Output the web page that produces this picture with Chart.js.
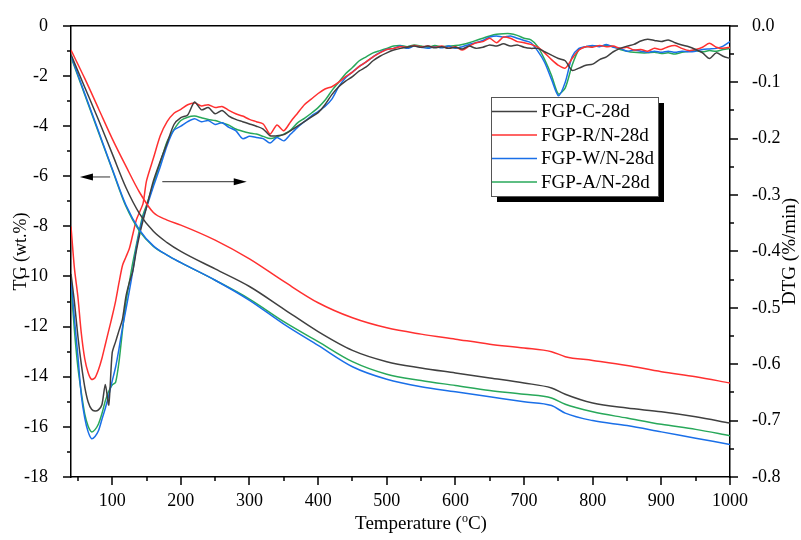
<!DOCTYPE html>
<html>
<head>
<meta charset="utf-8">
<script src="https://cdn.jsdelivr.net/npm/chart.js@4.4.1/dist/chart.umd.min.js"></script>
<style>
    html, body { margin: 0; padding: 0; background: #fff; }
    #wrap { width: 801px; height: 540px; position: relative; }
</style>
</head>
<body>
<div id="wrap"><canvas id="tgchart"></canvas></div>
<script>
// sample names and colours
const sampleNames = ['FGP-C-28d', 'FGP-R/N-28d', 'FGP-W/N-28d', 'FGP-A/N-28d'];
const sampleColors = ['#404040', '#ff3030', '#1a6fe8', '#28a85a'];

// TG curves (wt.%), left axis
const tempTG = [40, 60, 80, 100, 120, 140, 160, 180, 200, 250, 300, 350, 400, 450, 500, 550, 600, 650, 700, 740, 760, 800, 850, 900, 950, 1000];
const tgC = [-1.15, -2.45, -3.75, -5.1, -6.45, -7.5, -8.2, -8.65, -9.0, -9.7, -10.4, -11.3, -12.2, -12.95, -13.4, -13.65, -13.85, -14.05, -14.25, -14.45, -14.7, -15.05, -15.25, -15.4, -15.6, -15.85];
const tgR = [-0.97, -2.1, -3.3, -4.5, -5.6, -6.65, -7.45, -7.75, -7.95, -8.55, -9.3, -10.2, -11.05, -11.65, -12.05, -12.3, -12.5, -12.7, -12.85, -13.0, -13.2, -13.35, -13.55, -13.8, -14.0, -14.25];
const tgW = [-1.2, -2.7, -4.2, -5.7, -7.15, -8.15, -8.78, -9.15, -9.45, -10.15, -10.95, -11.9, -12.75, -13.6, -14.1, -14.4, -14.6, -14.8, -15.0, -15.15, -15.45, -15.75, -15.95, -16.2, -16.45, -16.7];
const tgA = [-1.25, -2.75, -4.25, -5.73, -7.2, -8.2, -8.8, -9.15, -9.45, -10.15, -10.9, -11.8, -12.6, -13.4, -13.9, -14.15, -14.35, -14.55, -14.7, -14.85, -15.1, -15.4, -15.65, -15.9, -16.1, -16.35];

// DTG curves (%/min), right axis
const tempDTG = [40, 45, 50, 55, 60, 65, 70, 75, 80, 85, 90, 95, 100, 105, 110, 115, 120, 125, 130, 135, 140, 145,
    150, 160, 170, 180, 190, 200, 210, 220, 230, 240, 250, 260, 270, 280, 290, 300, 310, 320, 330, 340, 350, 360, 370, 380, 390,
    400, 410, 420, 430, 440, 450, 460, 470, 480, 490, 500, 510, 520, 530, 540, 550, 560, 570, 580, 590, 600, 610, 620, 630, 640,
    650, 660, 670, 680, 690, 700, 710, 720, 730, 740, 750, 760, 770, 780, 790, 800, 810, 820, 830, 840, 850, 860, 870, 880, 890,
    900, 910, 920, 930, 940, 950, 960, 970, 980, 990, 1000];
const dtgC = [-0.44, -0.49, -0.55, -0.6, -0.64, -0.667, -0.68, -0.683, -0.681, -0.672, -0.636, -0.672, -0.58, -0.56, -0.54, -0.52, -0.48, -0.455, -0.435, -0.4, -0.37, -0.345,
    -0.322, -0.275, -0.24, -0.208, -0.175, -0.163, -0.158, -0.135, -0.149, -0.145, -0.156, -0.15, -0.16, -0.166, -0.17, -0.174, -0.178, -0.183, -0.195, -0.195, -0.193, -0.186, -0.178, -0.17, -0.162,
    -0.154, -0.14, -0.122, -0.108, -0.098, -0.09, -0.08, -0.073, -0.062, -0.054, -0.048, -0.043, -0.04, -0.038, -0.036, -0.038, -0.036, -0.039, -0.037, -0.04, -0.038, -0.041, -0.036, -0.04, -0.038,
    -0.034, -0.036, -0.032, -0.036, -0.034, -0.038, -0.04, -0.04, -0.046, -0.052, -0.058, -0.062, -0.079, -0.075, -0.07, -0.068, -0.06, -0.055, -0.046, -0.04, -0.036, -0.033, -0.027, -0.024, -0.026,
    -0.028, -0.025, -0.03, -0.034, -0.037, -0.042, -0.048, -0.058, -0.048, -0.054, -0.058];
const dtgR = [-0.356, -0.43, -0.48, -0.545, -0.59, -0.615, -0.627, -0.624, -0.61, -0.59, -0.565, -0.54, -0.515, -0.488, -0.455, -0.425, -0.41, -0.395, -0.37, -0.345, -0.33, -0.315,
    -0.275, -0.235, -0.195, -0.17, -0.155, -0.148, -0.14, -0.137, -0.142, -0.14, -0.145, -0.143, -0.15, -0.156, -0.16, -0.166, -0.17, -0.174, -0.192, -0.176, -0.186, -0.17, -0.155, -0.14, -0.13,
    -0.12, -0.112, -0.108, -0.1, -0.09, -0.082, -0.072, -0.064, -0.055, -0.048, -0.042, -0.04, -0.037, -0.038, -0.035, -0.037, -0.036, -0.038, -0.036, -0.04, -0.037, -0.043, -0.036, -0.03, -0.028,
    -0.022, -0.03, -0.02, -0.022, -0.028, -0.03, -0.033, -0.038, -0.048, -0.06, -0.07, -0.075, -0.058, -0.043, -0.037, -0.038, -0.035, -0.037, -0.036, -0.04, -0.038, -0.043, -0.042, -0.045, -0.04,
    -0.042, -0.037, -0.035, -0.04, -0.044, -0.042, -0.038, -0.031, -0.038, -0.04, -0.038];
const dtgW = [-0.449, -0.52, -0.585, -0.655, -0.695, -0.72, -0.732, -0.728, -0.718, -0.698, -0.678, -0.655, -0.63, -0.605, -0.572, -0.535, -0.503, -0.47, -0.435, -0.395, -0.365, -0.34,
    -0.322, -0.285, -0.25, -0.212, -0.185, -0.178, -0.17, -0.165, -0.17, -0.168, -0.175, -0.172, -0.18, -0.186, -0.2, -0.196, -0.198, -0.2, -0.208, -0.198, -0.204, -0.192, -0.18, -0.17, -0.16,
    -0.152, -0.143, -0.13, -0.108, -0.092, -0.082, -0.072, -0.064, -0.055, -0.047, -0.042, -0.04, -0.036, -0.04, -0.036, -0.038, -0.04, -0.037, -0.039, -0.036, -0.04, -0.037, -0.033, -0.03, -0.026,
    -0.02, -0.018, -0.02, -0.018, -0.022, -0.026, -0.03, -0.045, -0.065, -0.095, -0.124, -0.1, -0.055, -0.04, -0.037, -0.035, -0.037, -0.033, -0.038, -0.04, -0.045, -0.043, -0.045, -0.047, -0.045,
    -0.047, -0.045, -0.047, -0.045, -0.046, -0.045, -0.042, -0.041, -0.04, -0.036, -0.028];
const dtgA = [-0.46, -0.54, -0.605, -0.65, -0.688, -0.71, -0.72, -0.716, -0.706, -0.688, -0.665, -0.648, -0.637, -0.632, -0.595, -0.54, -0.49, -0.455, -0.42, -0.39, -0.36, -0.335,
    -0.318, -0.28, -0.243, -0.205, -0.184, -0.168, -0.162, -0.16, -0.163, -0.166, -0.168, -0.172, -0.176, -0.183, -0.187, -0.19, -0.192, -0.196, -0.2, -0.197, -0.192, -0.185, -0.172, -0.164, -0.155,
    -0.145, -0.132, -0.115, -0.1, -0.085, -0.074, -0.062, -0.055, -0.048, -0.044, -0.04, -0.036, -0.035, -0.037, -0.034, -0.036, -0.038, -0.035, -0.037, -0.036, -0.035, -0.033, -0.03, -0.026, -0.022,
    -0.018, -0.015, -0.014, -0.014, -0.017, -0.022, -0.025, -0.037, -0.06, -0.088, -0.121, -0.11, -0.07, -0.042, -0.037, -0.036, -0.036, -0.035, -0.037, -0.042, -0.045, -0.047, -0.048, -0.048, -0.047,
    -0.049, -0.048, -0.05, -0.047, -0.045, -0.044, -0.046, -0.044, -0.045, -0.042, -0.04];

// tick labels
const tempTicks = [100, 200, 300, 400, 500, 600, 700, 800, 900, 1000];
const tgTicks = [0, -2, -4, -6, -8, -10, -12, -14, -16, -18];
const dtgTicks = [0, -0.1, -0.2, -0.3, -0.4, -0.5, -0.6, -0.7, -0.8];

// the two arrows, [temperature, TG]
const arrowTG = [[97, -6.03], [53, -6.03]];
const arrowDTG = [[173, -6.22], [296, -6.22]];

const serif = 'Liberation Serif, Times New Roman, serif';
const toPoints = (xs, ys) => xs.map((x, i) => ({ x: x, y: ys[i] }));

const tgSets = [tgC, tgR, tgW, tgA];
const dtgSets = [dtgC, dtgR, dtgW, dtgA];
const datasets = [];
sampleNames.forEach((name, i) => {
    datasets.push({
        label: name,
        data: toPoints(tempTG, tgSets[i]),
        yAxisID: 'y',
        borderColor: sampleColors[i],
        borderWidth: 1.5,
        pointRadius: 0,
        cubicInterpolationMode: 'monotone',
        fill: false
    });
});
sampleNames.forEach((name, i) => {
    datasets.push({
        label: name + ' DTG',
        data: toPoints(tempDTG, dtgSets[i]),
        yAxisID: 'y2',
        borderColor: sampleColors[i],
        borderWidth: 1.5,
        pointRadius: 0,
        tension: 0.25,
        fill: false
    });
});

// frame on top, minor/major ticks, arrows, legend box and the two titles Chart.js can't place
const decorations = {
    id: 'decorations',
    afterDatasetsDraw(chart) {
        const { ctx, chartArea: a, scales } = chart;
        ctx.save();
        ctx.strokeStyle = '#000';
        ctx.lineWidth = 1.5;
        const seg = (x1, y1, x2, y2) => {
            ctx.beginPath();
            ctx.moveTo(x1, y1);
            ctx.lineTo(x2, y2);
            ctx.stroke();
        };
        seg(a.left, a.top, a.right, a.top);

        for (let t = 50; t <= 1000; t += 50) {
            const x = Math.round(scales.x.getPixelForValue(t));
            seg(x, a.bottom, x, a.bottom + (t % 100 === 0 ? 8 : 4));
        }
        for (let i = 0; i <= 18; i++) {
            const y = Math.round(scales.y.getPixelForValue(-i));
            seg(a.left, y, a.left - (i % 2 === 0 ? 8 : 4), y);
        }
        for (let i = 0; i <= 16; i++) {
            const y = Math.round(scales.y2.getPixelForValue(-i * 0.05));
            seg(a.right, y, a.right + (i % 2 === 0 ? 8 : 4), y);
        }

        // arrows
        const arrow = (pts) => {
            const x1 = scales.x.getPixelForValue(pts[0][0]);
            const y1 = scales.y.getPixelForValue(pts[0][1]);
            const x2 = scales.x.getPixelForValue(pts[1][0]);
            const y2 = scales.y.getPixelForValue(pts[1][1]);
            const dir = Math.sign(x2 - x1);
            ctx.strokeStyle = '#555';
            ctx.lineWidth = 1.2;
            seg(x1, y1, x2 - dir * 10, y2);
            ctx.fillStyle = '#000';
            ctx.beginPath();
            ctx.moveTo(x2, y2);
            ctx.lineTo(x2 - dir * 13, y2 - 3.5);
            ctx.lineTo(x2 - dir * 13, y2 + 3.5);
            ctx.closePath();
            ctx.fill();
        };
        arrow(arrowTG);
        arrow(arrowDTG);

        // legend with shadow
        const box = { x: 491, y: 97, w: 167, h: 99 };
        ctx.fillStyle = '#000';
        ctx.fillRect(box.x + 6, box.y + 6, box.w, box.h);
        ctx.fillStyle = '#fff';
        ctx.fillRect(box.x, box.y, box.w, box.h);
        ctx.strokeStyle = '#555';
        ctx.lineWidth = 1;
        ctx.strokeRect(box.x + 0.5, box.y + 0.5, box.w, box.h);
        ctx.font = '19px ' + serif;
        ctx.textBaseline = 'middle';
        ctx.textAlign = 'left';
        chart.data.datasets.filter(d => d.yAxisID === 'y').forEach((d, i) => {
            const y = box.y + 14.5 + i * 23.5;
            ctx.strokeStyle = d.borderColor;
            ctx.lineWidth = 1.5;
            seg(box.x + 1, y, box.x + 46, y);
            ctx.fillStyle = '#000';
            ctx.fillText(d.label, box.x + 50, y + 1);
        });

        // x title with a raised small "o"
        ctx.fillStyle = '#000';
        ctx.textBaseline = 'alphabetic';
        const partA = 'Temperature (';
        const partB = 'C)';
        ctx.font = '19px ' + serif;
        const wA = ctx.measureText(partA).width;
        const wB = ctx.measureText(partB).width;
        ctx.font = '12px ' + serif;
        const wO = ctx.measureText('o').width;
        let tx = 421 - (wA + wO + wB) / 2;
        const base = 529;
        ctx.font = '19px ' + serif;
        ctx.fillText(partA, tx, base);
        tx += wA;
        ctx.font = '12px ' + serif;
        ctx.fillText('o', tx, base - 7);
        tx += wO;
        ctx.font = '19px ' + serif;
        ctx.fillText(partB, tx, base);

        // right axis title reads bottom to top
        ctx.translate(790, (a.top + a.bottom) / 2);
        ctx.rotate(-Math.PI / 2);
        ctx.textAlign = 'center';
        ctx.textBaseline = 'middle';
        ctx.fillText('DTG (%/min)', 0, 0);
        ctx.restore();
    }
};

new Chart(document.getElementById('tgchart'), {
    type: 'line',
    data: { datasets: datasets },
    options: {
        responsive: true,
        maintainAspectRatio: false,
        animation: false,
        devicePixelRatio: 1,
        layout: { padding: { top: 18, left: 0, right: 0, bottom: 0 } },
        plugins: {
            legend: { display: false },
            tooltip: { enabled: false }
        },
        scales: {
            x: {
                type: 'linear',
                min: 40,
                max: 1000,
                afterBuildTicks: (scale) => { scale.ticks = tempTicks.map(v => ({ value: v })); },
                afterFit: (scale) => { scale.height = 63; },
                grid: { display: false },
                border: { display: true, color: '#000', width: 1.5 },
                ticks: { color: '#000', font: { family: serif, size: 18 }, padding: 5, maxRotation: 0, callback: (v) => String(v) }
            },
            y: {
                position: 'left',
                min: -18,
                max: 0,
                afterBuildTicks: (scale) => { scale.ticks = tgTicks.map(v => ({ value: v })); },
                afterFit: (scale) => { scale.width = 71; },
                grid: { display: false },
                border: { display: true, color: '#000', width: 1.5 },
                ticks: { color: '#000', font: { family: serif, size: 18 }, padding: 15 },
                title: { display: true, text: 'TG (wt.%)', color: '#000', font: { family: serif, size: 18 }, padding: { top: 10 } }
            },
            y2: {
                position: 'right',
                min: -0.8,
                max: 0,
                afterBuildTicks: (scale) => { scale.ticks = dtgTicks.map(v => ({ value: v })); },
                afterFit: (scale) => { scale.width = 71; },
                grid: { display: false },
                border: { display: true, color: '#000', width: 1.5 },
                ticks: {
                    color: '#000',
                    font: { family: serif, size: 18 },
                    padding: 14,
                    callback: (v) => v.toFixed(1)
                }
            }
        }
    },
    plugins: [decorations]
});
</script>
</body>
</html>
